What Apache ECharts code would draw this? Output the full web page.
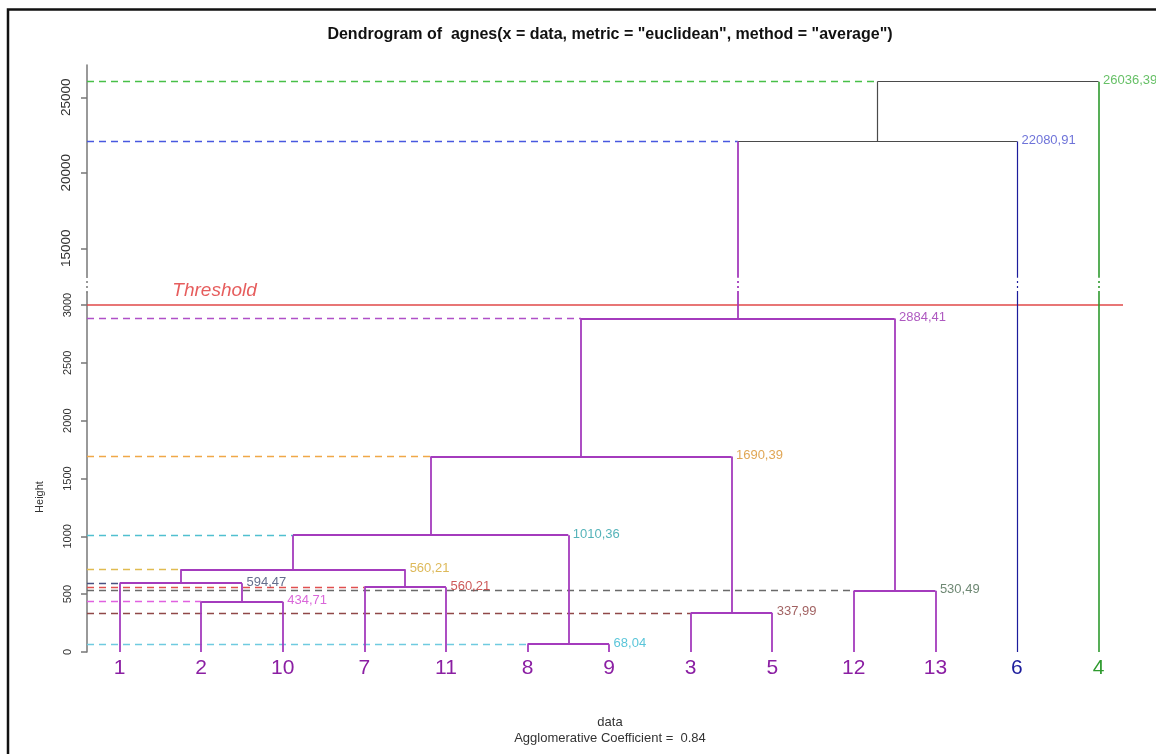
<!DOCTYPE html>
<html>
<head>
<meta charset="utf-8">
<script src="https://cdn.jsdelivr.net/npm/echarts@6/dist/echarts.min.js"></script>
<style>
html, body { margin: 0; padding: 0; background: #fff; }
#chart { width: 1156px; height: 754px; }
</style>
</head>
<body>
<div id="chart"></div>
<script>
// leaves in dendrogram order
const leafOrder = ['1', '2', '10', '7', '11', '8', '9', '3', '5', '12', '13', '6', '4'];
const leafColors = ['#8b1fa3', '#8b1fa3', '#8b1fa3', '#8b1fa3', '#8b1fa3', '#8b1fa3', '#8b1fa3',
    '#8b1fa3', '#8b1fa3', '#8b1fa3', '#8b1fa3', '#1c1c9c', '#2e9a2e'];
const leafLineColors = ['#a43bbd', '#a43bbd', '#a43bbd', '#a43bbd', '#a43bbd', '#a43bbd', '#a43bbd',
    '#a43bbd', '#a43bbd', '#a43bbd', '#a43bbd', '#1c1c9c', '#2e9a2e'];

// merges like R: negative = leaf label, positive = earlier merge (1-based)
const mergeA = [-8, -3, -2, -12, -7, -1, 6, 7, 8, 9, 10, 11];
const mergeB = [-9, -5, -10, -13, -11, 3, 5, 1, 2, 4, -6, -4];
const mergeHeights = [68.04, 337.99, 434.71, 530.49, 560.21, 594.47, 715, 1010.36, 1690.39, 2884.41, 22080.91, 26036.39];
const mergeLabels = ['68,04', '337,99', '434,71', '530,49', '560,21', '594,47', '560,21', '1010,36', '1690,39', '2884,41', '22080,91', '26036,39'];
const labelColors = ['#2fb6d0', '#8a3a3a', '#d040d0', '#4a6a50', '#c03030', '#3f4a70', '#d4a830', '#2aa0a8', '#d8902a', '#9a30b0', '#4a50d0', '#40b040'];
const dashColors = ['#6fcbe0', '#904848', '#e060e0', '#6a6a6a', '#e05050', '#4a5080', '#e0bb50', '#50c0d0', '#f0a848', '#b050c8', '#4858e0', '#48c048'];
const branchColors = ['#a43bbd', '#a43bbd', '#a43bbd', '#a43bbd', '#a43bbd', '#a43bbd', '#a43bbd', '#a43bbd', '#a43bbd', '#a43bbd', '#4a4a4a', '#4a4a4a'];

const lowerTicks = [0, 500, 1000, 1500, 2000, 2500, 3000];
const upperTicks = [15000, 20000, 25000];
const threshold = 3000;

const X_MIN = 0.6, X_MAX = 13.3;
const LOWER_MAX = 3104, UPPER_MIN = 13100, UPPER_MAX = 27140;
const GAP_TOP = 3240;
const FONT = '"Liberation Sans", Arial, sans-serif';

function widthOf(color) {
    if (color === '#a43bbd') return 1.8;
    if (color === '#2e9a2e') return 1.6;
    return 1.2;
}

const nodeX = [], nodeH = [];
function leafIndex(r) { return leafOrder.indexOf(String(-r)) + 1; }
function refX(r) { return r < 0 ? leafIndex(r) : nodeX[r - 1]; }
function refH(r) { return r < 0 ? 0 : nodeH[r - 1]; }
function refColor(r) { return r < 0 ? leafLineColors[leafIndex(r) - 1] : branchColors[r - 1]; }

const upperLines = [], lowerLines = [], gapLines = [];
const upperLabels = [], lowerLabels = [];

function seg(x1, y1, x2, y2, style) {
    style = Object.assign({ opacity: 1, curveness: 0 }, style);
    const item = (a, b, s) => ({ coords: [[x1, a], [x2, b]], lineStyle: s });
    if (y1 === y2) {
        (y1 > LOWER_MAX ? upperLines : lowerLines).push(item(y1, y2, style));
    } else if (y2 <= LOWER_MAX) {
        lowerLines.push(item(y1, y2, style));
    } else if (y1 >= UPPER_MIN) {
        upperLines.push(item(y1, y2, style));
    } else {
        lowerLines.push(item(y1, LOWER_MAX, style));
        gapLines.push(item(LOWER_MAX, GAP_TOP, Object.assign({}, style, { type: [2, 3] })));
        upperLines.push(item(UPPER_MIN, y2, style));
    }
}

// positions first
mergeHeights.forEach((h, k) => {
    nodeX.push((refX(mergeA[k]) + refX(mergeB[k])) / 2);
    nodeH.push(h);
});

// dashed guides (drawn below the tree)
mergeHeights.forEach((h, k) => {
    seg(X_MIN, h, refX(mergeA[k]), h, { color: dashColors[k], width: 1.4, type: [7, 5] });
});

seg(X_MIN, threshold, X_MAX, threshold, { color: '#e04848', width: 1.5 });

// tree
mergeHeights.forEach((h, k) => {
    const a = mergeA[k], b = mergeB[k];
    const xa = refX(a), xb = refX(b);
    seg(xa, h, xb, h, { color: branchColors[k], width: widthOf(branchColors[k]) });
    [a, b].forEach(c => {
        const col = refColor(c);
        seg(refX(c), refH(c), refX(c), h, { color: col, width: widthOf(col) });
    });
    const lab = { name: mergeLabels[k], value: [xb, h], label: { color: labelColors[k] } };
    (h > LOWER_MAX ? upperLabels : lowerLabels).push(lab);
});

// break marks on the axis itself
gapLines.push({ coords: [[X_MIN, LOWER_MAX], [X_MIN, GAP_TOP]], lineStyle: { color: '#777', width: 1.5, opacity: 1, type: [2, 3] } });

const chart = echarts.init(document.getElementById('chart'));

const axisGray = { color: '#777', width: 1.5 };
const labelSeries = (xi, data) => ({
    type: 'scatter', xAxisIndex: xi, yAxisIndex: xi, symbolSize: 1, silent: true,
    itemStyle: { color: 'transparent' },
    data: data,
    label: { show: true, position: 'right', distance: 4, offset: [0, -1], formatter: p => p.name, fontSize: 13, fontFamily: FONT }
});

chart.setOption({
    animation: false,
    backgroundColor: '#fff',
    grid: [
        { left: 87, right: 33, top: 65, height: 212 },
        { left: 87, right: 33, top: 293, height: 359 }
    ],
    xAxis: [
        { gridIndex: 0, type: 'value', min: X_MIN, max: X_MAX, show: false },
        {
            gridIndex: 1, type: 'value', min: X_MIN, max: X_MAX,
            axisLine: { show: false }, axisTick: { show: false }, splitLine: { show: false },
            axisLabel: {
                customValues: leafOrder.map((_, i) => i + 1),
                formatter: v => leafOrder[v - 1],
                color: v => leafColors[Number(v) - 1],
                fontSize: 21, fontFamily: FONT, margin: 6
            }
        }
    ],
    yAxis: [
        {
            gridIndex: 0, type: 'value', min: UPPER_MIN, max: UPPER_MAX,
            axisLine: { show: true, lineStyle: axisGray },
            axisTick: { show: true, customValues: upperTicks, length: 6, lineStyle: axisGray },
            axisLabel: { customValues: upperTicks, formatter: v => String(v), rotate: 90, fontSize: 13.5, margin: 14, color: '#333', fontFamily: FONT },
            splitLine: { show: false }
        },
        {
            gridIndex: 1, type: 'value', min: 0, max: LOWER_MAX,
            axisLine: { show: true, lineStyle: axisGray },
            axisTick: { show: true, customValues: lowerTicks, length: 6, lineStyle: axisGray },
            axisLabel: { customValues: lowerTicks, formatter: v => String(v), rotate: 90, fontSize: 11, margin: 14, color: '#333', fontFamily: FONT },
            splitLine: { show: false }
        }
    ],
    series: [
        { type: 'lines', coordinateSystem: 'cartesian2d', xAxisIndex: 0, yAxisIndex: 0, data: upperLines, silent: true },
        { type: 'lines', coordinateSystem: 'cartesian2d', xAxisIndex: 1, yAxisIndex: 1, data: lowerLines, silent: true },
        { type: 'lines', coordinateSystem: 'cartesian2d', xAxisIndex: 1, yAxisIndex: 1, data: gapLines, silent: true, clip: false },
        labelSeries(0, upperLabels),
        labelSeries(1, lowerLabels),
        {
            type: 'scatter', xAxisIndex: 1, yAxisIndex: 1, symbolSize: 1, silent: true,
            itemStyle: { color: 'transparent' },
            data: [{ name: 'Threshold', value: [1.64, threshold] }],
            label: { show: true, position: 'right', distance: 0, offset: [0, -14], formatter: p => p.name,
                fontSize: 19, fontStyle: 'italic', color: '#e03535', fontFamily: FONT }
        }
    ],
    graphic: [
        { type: 'rect', silent: true, shape: { x: 8, y: 9.5, width: 1200, height: 800 }, style: { fill: 'none', stroke: '#111', lineWidth: 2.5 } },
        { type: 'text', x: 610, y: 35, style: { text: 'Dendrogram of  agnes(x = data, metric = "euclidean", method = "average")',
            font: 'bold 16px ' + FONT, fill: '#111', align: 'center', verticalAlign: 'middle', textAlign: 'center', textVerticalAlign: 'middle' } },
        { type: 'text', x: 610, y: 722, style: { text: 'data', font: '13px ' + FONT, fill: '#333', align: 'center', verticalAlign: 'middle', textAlign: 'center', textVerticalAlign: 'middle' } },
        { type: 'text', x: 610, y: 738, style: { text: 'Agglomerative Coefficient =  0.84', font: '13px ' + FONT, fill: '#333', align: 'center', verticalAlign: 'middle', textAlign: 'center', textVerticalAlign: 'middle' } },
        { type: 'text', x: 40, y: 497, rotation: Math.PI / 2, style: { text: 'Height', font: '11px ' + FONT, fill: '#333', align: 'center', verticalAlign: 'middle', textAlign: 'center', textVerticalAlign: 'middle' } }
    ]
});

window.addEventListener('resize', () => chart.resize());
</script>
</body>
</html>
